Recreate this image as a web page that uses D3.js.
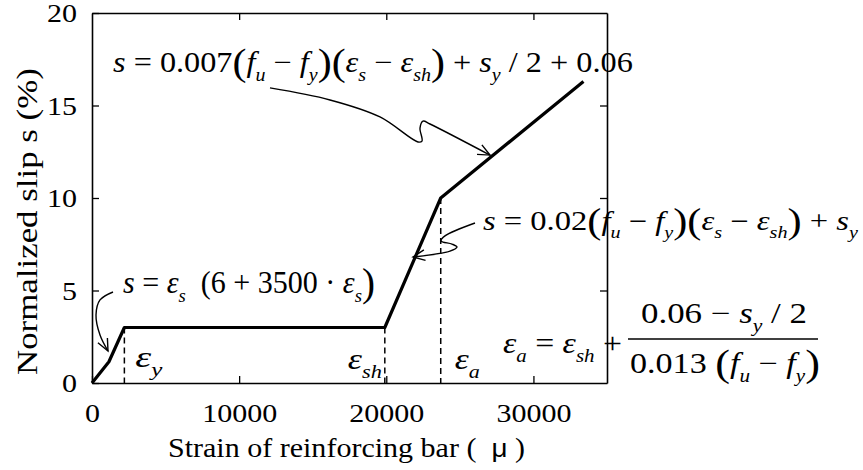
<!DOCTYPE html>
<html>
<head>
<meta charset="utf-8">
<script src="https://cdn.jsdelivr.net/npm/d3@7"></script>
<style>
  html, body { margin: 0; padding: 0; background: #fff; }
  svg { display: block; }
</style>
</head>
<body>
<svg id="chart" width="863" height="470"></svg>
<script>
// Slip model: strain of reinforcing bar (micro) vs normalized slip (%)
const strain = [0, 1150, 2200, 19900, 23700, 33400];
const slip   = [0, 1.15, 3.0, 3.0, 10.0, 16.3];

// Characteristic strains marked with dashed drop lines (eps_y, eps_sh, eps_a)
const markStrain = [2200, 19900, 23700];
const markSlip   = [3.0, 3.0, 10.0];

const xTicks = [0, 10000, 20000, 30000];
const yTicks = [0, 5, 10, 15, 20];
const xTickLabels = ["0", "10000", "20000", "30000"];
const yTickLabels = ["0", "5", "10", "15", "20"];

// Leader arrows (strain, slip) pointing from each formula to its branch
const arrowEpsS   = [[1427, 4.92], [544, 4.49], [272, 3.68], [544, 2.59], [1087, 1.73]];
const arrowUpper  = [[12097, 15.95], [16174, 15.30], [19572, 14.38], [22155, 13.03],
                     [22427, 13.08], [22291, 13.78], [22495, 14.16], [22970, 14.00], [27048, 12.32]];
const arrowMiddle = [[26029, 8.65], [23990, 7.95], [23718, 7.68], [24466, 7.51],
                     [24805, 7.35], [24330, 7.13], [21815, 6.81]];

const svg = d3.select("#chart");
const plotLeft = 92, plotRight = 607, plotTop = 13, plotBottom = 383;
const FONT = "Liberation Serif";
const WIDE = 1.2;   // horizontal widening of the tick numerals

const x = d3.scaleLinear().domain([0, 35000]).range([plotLeft, plotRight]);
const y = d3.scaleLinear().domain([0, 20]).range([plotBottom, plotTop]);

// Axes: ticks point inward on all four sides
const axisStyle = g => {
  g.attr("font-family", FONT);
  g.select(".domain").attr("stroke", "#000").attr("stroke-width", 1.6);
  g.selectAll(".tick line").attr("stroke", "#000").attr("stroke-width", 1.3);
  g.selectAll(".tick text").attr("font-family", FONT).attr("font-size", 25).attr("fill", "#000");
};

svg.append("g").attr("transform", `translate(0,${plotBottom})`)
  .call(d3.axisBottom(x).tickValues(xTicks).tickSizeInner(-7).tickSizeOuter(0)
    .tickFormat((d, i) => xTickLabels[i]))
  .call(axisStyle)
  .call(g => g.selectAll(".tick text").attr("y", 39).attr("dy", 0)
    .attr("transform", `scale(${WIDE},1)`));

svg.append("g").attr("transform", `translate(${plotLeft},0)`)
  .call(d3.axisLeft(y).tickValues(yTicks).tickSizeInner(-7).tickSizeOuter(0)
    .tickFormat((d, i) => yTickLabels[i]))
  .call(axisStyle)
  .call(g => g.selectAll(".tick text").attr("x", -15 / WIDE).attr("dy", "0.34em")
    .attr("transform", `scale(${WIDE},1)`));

svg.append("g").attr("transform", `translate(0,${plotTop})`)
  .call(d3.axisTop(x).tickValues(xTicks.slice(1)).tickSizeInner(-7).tickSizeOuter(0).tickFormat(""))
  .call(axisStyle);

svg.append("g").attr("transform", `translate(${plotRight},0)`)
  .call(d3.axisRight(y).tickValues(yTicks.slice(1, -1)).tickSizeInner(-7).tickSizeOuter(0).tickFormat(""))
  .call(axisStyle);

// Text widened along its own direction to a given length
function fitText(g, base, len) {
  const w = g.select("text").node().getComputedTextLength();
  g.attr("transform", `${base} scale(${(len / w).toFixed(4)},1)`);
}

// Axis titles
const xTitle = svg.append("g");
xTitle.append("text").attr("font-size", 27).attr("font-family", FONT)
  .call(t => {
    t.append("tspan").attr("font-family", FONT).text("Strain of reinforcing bar (\u00a0\u00a0");
    t.append("tspan").attr("font-family", "Liberation Sans").attr("font-size", 25).text("μ");
    t.append("tspan").attr("font-family", FONT).text("\u00a0)");
  });
fitText(xTitle, "translate(168,457)", 357);

const yTitle = svg.append("g");
yTitle.append("text").attr("font-family", FONT).attr("font-size", 30).text("Normalized slip s (%)");
fitText(yTitle, "translate(37,375) rotate(-90)", 307);

// Dashed drop lines at the characteristic strains
svg.append("g").selectAll("line").data(markStrain).join("line")
  .attr("x1", d => x(d)).attr("x2", d => x(d))
  .attr("y1", (d, i) => y(markSlip[i])).attr("y2", y(0))
  .attr("stroke", "#000").attr("stroke-width", 1.5).attr("stroke-dasharray", "6,4");

// Slip curve
svg.append("path")
  .datum(strain.map((d, i) => [d, slip[i]]))
  .attr("fill", "none").attr("stroke", "#000").attr("stroke-width", 3.2)
  .attr("stroke-linejoin", "round")
  .attr("d", d3.line().x(d => x(d[0])).y(d => y(d[1])));

// Leader arrows
function leader(pts) {
  const p = pts.map(d => [x(d[0]), y(d[1])]);
  svg.append("path").attr("fill", "none").attr("stroke", "#000").attr("stroke-width", 1.4)
    .attr("d", d3.line().curve(d3.curveCatmullRom.alpha(0.5))(p));
  const [a, b] = [p[p.length - 2], p[p.length - 1]];
  const ang = Math.atan2(b[1] - a[1], b[0] - a[0]);
  const L = 13, spread = 0.42;
  const arm = s => [b[0] - L * Math.cos(ang + s), b[1] - L * Math.sin(ang + s)];
  svg.append("path").attr("fill", "none").attr("stroke", "#000").attr("stroke-width", 1.4)
    .attr("d", d3.line()([arm(spread), b, arm(-spread)]));
}
leader(arrowEpsS);
leader(arrowUpper);
leader(arrowMiddle);

// Math typesetting: r = roman, i = italic, sub = italic subscript, big = tall bracket
function mathText(px, py, size, parts, len) {
  const g = svg.append("g");
  const t = g.append("text").attr("font-size", size).attr("font-family", FONT);
  let off = 0;
  parts.forEach(([s, k]) => {
    let fs = size, target = 0, it = false;
    if (k === "i") it = true;
    if (k === "sub") { fs = size * 0.62; target = size * 0.3; it = true; }
    if (k === "big") { fs = size * 1.3; target = size * 0.1; }
    t.append("tspan").attr("dy", (target - off).toFixed(2)).attr("font-size", fs)
      .attr("font-family", FONT)
      .attr("font-style", it ? "italic" : "normal").text(s.replace(/ /g, "\u00a0"));
    off = target;
  });
  fitText(g, `translate(${px},${py})`, len);
  return g;
}

mathText(113, 72, 29, [
  ["s", "i"], [" = 0.007", "r"], ["(", "big"], ["f", "i"], ["u", "sub"], [" − ", "r"], ["f", "i"], ["y", "sub"],
  [")(", "big"], ["ε", "i"], ["s", "sub"], [" − ", "r"], ["ε", "i"], ["sh", "sub"], [")", "big"],
  [" + ", "r"], ["s", "i"], ["y", "sub"], [" / 2 + 0.06", "r"]
], 520);

mathText(483, 230, 27, [
  ["s", "i"], [" = 0.02", "r"], ["(", "big"], ["f", "i"], ["u", "sub"], [" − ", "r"], ["f", "i"], ["y", "sub"],
  [")(", "big"], ["ε", "i"], ["s", "sub"], [" − ", "r"], ["ε", "i"], ["sh", "sub"], [")", "big"],
  [" + ", "r"], ["s", "i"], ["y", "sub"]
], 375);

mathText(123, 293, 31, [
  ["s", "i"], [" = ", "r"], ["ε", "i"], ["s", "sub"], ["  (6 + 3500 · ", "r"], ["ε", "i"], ["s", "sub"], [")", "big"]
], 252);

mathText(503, 353, 29, [
  ["ε", "i"], ["a", "sub"], [" = ", "r"], ["ε", "i"], ["sh", "sub"], [" +", "r"]
], 119);

mathText(641, 323, 29, [
  ["0.06 − ", "r"], ["s", "i"], ["y", "sub"], [" / 2", "r"]
], 166);

svg.append("line").attr("x1", 628).attr("x2", 818).attr("y1", 339).attr("y2", 339)
  .attr("stroke", "#000").attr("stroke-width", 1.4);

mathText(630, 373, 29, [
  ["0.013 ", "r"], ["(", "big"], ["f", "i"], ["u", "sub"], [" − ", "r"], ["f", "i"], ["y", "sub"], [")", "big"]
], 190);

// Strain markers
mathText(x(markStrain[0]) + 11, 367, 29, [["ε", "i"], ["y", "sub"]], 27);
mathText(x(markStrain[1]) - 37, 369, 29, [["ε", "i"], ["sh", "sub"]], 34);
mathText(x(markStrain[2]) + 14, 369, 29, [["ε", "i"], ["a", "sub"]], 25);
</script>
</body>
</html>
